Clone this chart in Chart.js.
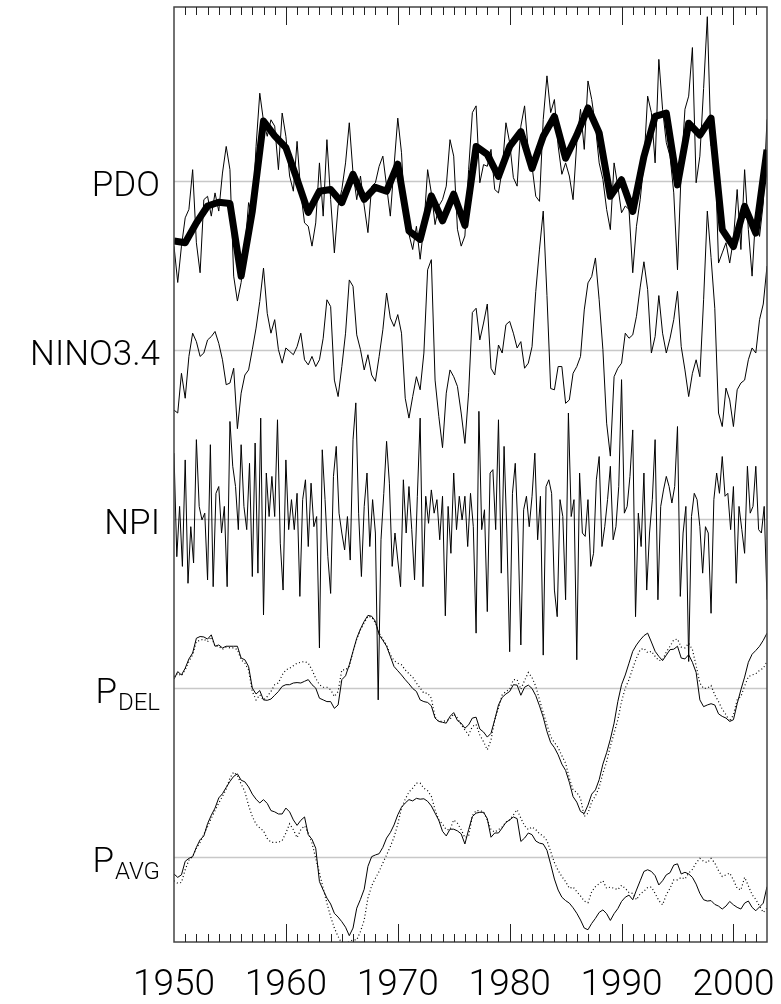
<!DOCTYPE html>
<html>
<head>
<meta charset="utf-8">
<script src="https://cdn.jsdelivr.net/npm/chart.js@4/dist/chart.umd.min.js"></script>
<style>
  html, body { margin: 0; padding: 0; background: #fff; }
  canvas { display: block; }
</style>
</head>
<body>
<canvas id="chart" width="781" height="1004"></canvas>
<script>
// time axis
const startYear = 1950;
const endYear = 2003;
const yearLabels = [1950, 1960, 1970, 1980, 1990, 2000];

// row labels (main text + subscript) and their baselines on the stacked axis
const rowLabels = [
  { main: 'PDO', sub: '' },
  { main: 'NINO3.4', sub: '' },
  { main: 'NPI', sub: '' },
  { main: 'P', sub: 'DEL' },
  { main: 'P', sub: 'AVG' }
];
const rowBase = [16, 12, 8, 4, 0];

// PDO, annual means 1950..2003
const pdoAnnual = [-1.41, -1.45, -0.98, -0.58, -0.49, -0.52, -2.24, -0.7, 1.43, 1.08,
  0.80, 0.05, -0.73, -0.23, -0.19, -0.50, 0.17, -0.42, -0.14, -0.23,
  0.41, -1.17, -1.37, -0.34, -0.93, -0.30, -1.04, 0.83, 0.64, 0.12,
  0.83, 1.18, 0.31, 1.07, 1.54, 0.55, 1.10, 1.74, 1.15, -0.35,
  0.04, -0.71, 0.59, 1.54, 1.62, -0.08, 1.38, 1.10, 1.50, -1.14,
  -1.54, -0.59, -1.22, 0.75];

// PDO, 4-month values (step 1/3 yr)
const pdoMonthly = [-1.53, -2.39, -1.53, -0.86, -0.66, 0.28, -1.45, -2.16, -0.43, -0.35,
  -0.82, -0.27, -0.70, 0.20, 0.83, 0.28, -2.24, -2.83, -2.39, -1.61,
  -0.50, -0.82, 0.83, 2.09, 1.43, 1.07, 1.46, 1.31, 0.28, 1.62,
  1.07, 0.13, -0.23, 0.95, -0.27, -0.98, -1.06, -1.53, -0.98, 0.44,
  -0.82, 0.99, -0.43, -1.69, -0.58, -0.19, 0.44, 1.39, 0.20, -0.43,
  0.13, -0.58, -1.21, -0.11, -0.03, 0.36, 0.60, -0.11, -0.82, 0.36,
  1.50, 0.68, -0.98, -1.25, -1.61, -1.06, -1.84, -1.06, 0.28, -0.27,
  -1.02, -0.58, -0.43, -0.11, 0.99, 0.60, -1.13, -1.53, -1.29, 0.28,
  1.63, 1.79, -0.03, 0.40, 0.36, 0.76, -0.19, -0.27, 0.28, 1.39,
  0.92, 0.09, -0.11, 1.31, 1.79, 0.72, 0.36, -0.35, -0.47, 1.47,
  2.50, 1.63, 1.94, 0.84, 0.17, 0.44, 0.13, -0.43, 0.92, 1.71,
  0.76, 2.38, 1.94, 1.31, 0.44, 0.05, -0.66, -1.14, 0.44, -0.11,
  -0.74, -0.58, -0.66, -2.16, -1.06, -0.43, 0.44, 2.02, 1.63, 0.44,
  2.89, 1.71, 0.92, 0.60, -0.27, -2.09, 0.28, 1.71, 2.02, 3.17,
  -0.03, 0.60, 2.2, 3.9, 0.84, 0.92, -1.93, -1.69, -1.45, -1.93,
  -1.37, -0.19, -1.61, 0.28, -1.14, -2.24, -0.74, -1.30, -0.51, 1.47];

// NINO3.4 (step 1/3 yr)
const nino = [-1.41, -1.48, -0.54, -1.13, -0.14, 0.41, 0.21, -0.14, -0.06, 0.25,
  0.33, 0.45, 0.17, -0.22, -0.81, -0.77, -0.42, -1.85, -1.01, -0.58,
  -0.46, 0.02, 0.53, 1.16, 1.95, 0.88, 0.41, 0.73, 0.02, -0.30,
  0.06, -0.02, -0.10, 0.09, 0.41, -0.22, -0.34, -0.14, -0.38, -0.22,
  0.29, 1.20, 1.04, -0.70, -1.09, -0.38, 0.41, 1.67, 1.52, 0.37,
  0.02, -0.46, -0.10, -0.58, -0.73, -0.14, 0.49, 1.36, 0.77, 0.57,
  0.85, 0.41, -1.13, -1.60, -1.09, -0.62, -0.93, -0.06, 1.91, 2.15,
  -0.70, -1.56, -2.30, -1.01, -0.46, -0.62, -0.85, -1.48, -2.20, -1.0,
  0.9, 1.0, 0.25, 0.65, 1.1, -0.42, -0.58, 0.13, -0.06, 0.61,
  0.69, 0.41, 0.06, 0.21, -0.42, -0.30, 0.09, 1.4, 2.4, 3.3,
  1.3, -0.9, -0.93, -0.38, -0.38, -1.25, -1.17, -0.54, -0.38, -0.14,
  0.96, 1.6, 1.75, 2.19, 1.2, 0.02, -1.72, -2.5, -0.62, -0.42,
  -0.30, 0.41, 0.29, 0.37, 0.81, 1.5, 2.1, 1.44, -0.06, 0.33,
  1.3, 0.41, -0.06, 0.29, 0.73, 1.4, 0.09, -0.46, -1.09, -0.54,
  -0.22, -0.62, 1.2, 3.3, 2.2, 1.0, -1.48, -1.80, -0.89, -1.17,
  -1.80, -0.93, -0.77, -0.70, -0.22, 0.06, -0.06, 0.73, 1.1, 2.0];

// NPI (step 1/4 yr)
const npi = [1.57, -0.88, 0.31, -1.11, 1.41, -1.51, -0.17, -1.03, 1.89, 0.31,
  -0.01, 0.15, -1.43, 1.77, -1.59, 0.62, 0.78, -0.32, 0.31, -1.59,
  2.32, 1.26, 0.78, -0.24, 1.77, 0.31, -0.24, 1.33, -1.35, 1.81,
  -1.27, 2.40, -2.26, 1.10, 0.07, 1.02, 0.07, 2.36, -0.56, -1.67,
  1.41, -0.24, 0.47, -0.24, 0.62, -1.82, 0.47, 0.94, -0.64, 0.86,
  -0.17, 0.07, -3.04, 1.65, 0.47, -0.88, -1.75, 1.02, 1.73, 0.15,
  -0.32, -0.72, 0.07, -0.96, 1.89, 2.76, 0.15, -1.35, 0.31, 1.10,
  -0.64, 0.47, -0.32, -4.27, -0.48, 0.62, 1.85, 0.86, -1.11, -0.32,
  -0.96, -1.59, 0.94, -0.32, 0.78, -0.24, -1.43, 0.55, 2.40, -1.59,
  0.55, -0.09, 0.70, 0.15, 0.47, -0.48, 0.55, -2.28, 0.31, -0.80,
  1.10, -0.24, 0.55, -0.01, 0.55, -0.64, 0.62, -0.17, -2.69, 2.56,
  -0.24, 0.23, -2.18, 1.10, 1.18, -0.24, 2.36, -1.27, 1.73, -0.32,
  -3.13, 0.62, 1.33, -0.32, -2.97, 0.23, 0.55, -0.17, 0.55, 1.57,
  -0.48, 0.55, -3.21, 0.78, 0.94, 0.62, -1.67, -2.30, 0.47, 0.07,
  -1.90, 2.52, 0.07, 0.47, -3.32, 1.10, -0.32, -0.40, 0.47, -1.11,
  -0.80, 0.94, 1.49, -0.64, -0.17, 0.47, 1.26, -0.48, -0.17, 0.78,
  3.31, 0.15, 0.31, 1.02, 2.12, -2.30, 0.15, -0.64, 1.10, -1.67,
  -0.32, 0.47, 1.89, -1.90, 0.31, 0.70, 1.02, 0.78, 0.39, 0.78,
  2.20, -1.82, -0.32, 0.31, -3.36, 0.07, 0.62, 0.47, -0.17, -1.27,
  -0.17, -0.32, -2.22, 0.47, 1.10, 0.62, 1.49, 0.55, 0.62, -0.24,
  0.78, -1.51, 0.31, -0.24, -0.80, 1.26, 0.15, 0.31, 1.26, -0.24,
  -0.32, 0.31, -1.90];

// P_DEL, solid and dotted (step 1/3 yr)
const pdelSolid = [0.22, 0.40, 0.32, 0.48, 0.70, 0.84, 1.19, 1.23, 1.22, 1.17,
  1.27, 1.00, 1.03, 0.96, 1.00, 1.00, 1.00, 1.00, 0.72, 0.68,
  0.52, 0.01, -0.13, -0.05, -0.27, -0.28, -0.25, -0.16, -0.07, 0.05,
  0.09, 0.09, 0.13, 0.14, 0.13, 0.17, 0.21, 0.09, 0.01, -0.23,
  -0.27, -0.31, -0.31, -0.47, -0.39, 0.21, 0.30, 0.56, 0.88, 1.19,
  1.41, 1.59, 1.73, 1.71, 1.59, 1.27, 1.14, 1.00, 0.76, 0.52,
  0.42, 0.32, 0.21, 0.11, 0.00, -0.07, -0.27, -0.31, -0.33, -0.41,
  -0.70, -0.78, -0.80, -0.82, -0.66, -0.57, -0.76, -0.82, -0.94, -0.86,
  -0.70, -0.68, -0.96, -1.03, -1.15, -1.06, -0.74, -0.39, -0.21, -0.13,
  -0.07, 0.09, 0.08, -0.16, 0.03, 0.08, 0.00, -0.17, -0.41, -0.68,
  -1.02, -1.28, -1.40, -1.57, -1.79, -1.94, -2.22, -2.56, -2.69, -2.91,
  -2.96, -2.76, -2.50, -2.40, -2.16, -1.79, -1.52, -1.20, -0.82, -0.31,
  0.09, 0.32, 0.60, 0.88, 1.03, 1.15, 1.25, 1.31, 1.10, 0.88,
  0.76, 0.66, 0.79, 0.92, 0.93, 1.00, 0.72, 0.70, 0.80, 0.62,
  0.38, -0.27, -0.43, -0.39, -0.36, -0.39, -0.60, -0.66, -0.70, -0.78,
  -0.74, -0.36, -0.03, 0.27, 0.62, 0.81, 0.90, 1.00, 1.14, 1.31];
const pdelDotted = [0.28, 0.36, 0.30, 0.44, 0.64, 0.80, 1.11, 1.14, 1.17, 1.11,
  1.22, 1.00, 1.00, 0.93, 0.98, 0.96, 0.96, 0.92, 0.68, 0.60,
  0.44, -0.07, -0.27, -0.15, -0.27, -0.19, -0.07, 0.09, 0.13, 0.32,
  0.44, 0.48, 0.54, 0.60, 0.62, 0.64, 0.60, 0.44, 0.24, 0.09,
  0.03, 0.03, -0.03, -0.19, -0.07, 0.44, 0.44, 0.52, 0.88, 1.17,
  1.39, 1.55, 1.71, 1.69, 1.55, 1.31, 1.17, 1.03, 0.80, 0.66,
  0.60, 0.56, 0.44, 0.35, 0.27, 0.13, 0.01, -0.11, -0.11, -0.23,
  -0.68, -0.78, -0.78, -0.76, -0.73, -0.60, -0.70, -0.86, -0.98, -1.10,
  -0.90, -0.85, -1.10, -1.26, -1.45, -1.22, -0.74, -0.47, -0.15, -0.07,
  -0.02, 0.21, 0.21, -0.02, 0.19, 0.38, 0.26, 0.05, -0.27, -0.57,
  -0.86, -1.14, -1.28, -1.40, -1.59, -1.77, -2.12, -2.40, -2.46, -2.60,
  -3.03, -2.95, -2.68, -2.54, -2.34, -2.01, -1.73, -1.37, -1.06, -0.74,
  -0.31, 0.01, 0.21, 0.48, 0.72, 0.92, 0.95, 0.85, 0.88, 0.76,
  0.66, 0.68, 0.86, 1.00, 1.15, 1.17, 0.98, 0.96, 1.07, 0.92,
  0.54, 0.13, 0.00, 0.01, 0.07, -0.15, -0.31, -0.49, -0.62, -0.78,
  -0.62, -0.27, -0.19, 0.06, 0.28, 0.32, 0.35, 0.43, 0.48, 0.63];

// P_AVG, solid and dotted (step 1/3 yr)
const pavgSolid = [-0.39, -0.47, -0.41, -0.09, -0.02, 0.02, 0.24, 0.42, 0.51, 0.80,
  1.00, 1.17, 1.41, 1.51, 1.66, 1.80, 1.92, 1.98, 1.83, 1.79,
  1.67, 1.50, 1.38, 1.29, 1.37, 1.28, 1.11, 1.08, 1.03, 1.03,
  1.17, 1.08, 0.89, 0.76, 0.88, 0.96, 0.54, 0.43, 0.22, -0.57,
  -0.77, -0.96, -1.10, -1.32, -1.41, -1.52, -1.65, -1.85, -1.67, -1.20,
  -0.99, -0.75, -0.21, 0.02, 0.06, 0.09, 0.24, 0.46, 0.59, 0.77,
  1.01, 1.19, 1.29, 1.37, 1.34, 1.40, 1.38, 1.39, 1.33, 1.22,
  1.05, 0.88, 0.62, 0.51, 0.67, 0.67, 0.63, 0.56, 0.32, 0.66,
  0.97, 1.05, 1.07, 1.07, 0.92, 0.48, 0.58, 0.58, 0.70, 0.83,
  0.89, 0.96, 0.92, 0.38, 0.46, 0.58, 0.54, 0.39, 0.34, 0.32,
  0.17, -0.16, -0.51, -0.77, -0.94, -1.02, -1.08, -1.19, -1.32, -1.48,
  -1.67, -1.71, -1.56, -1.44, -1.30, -1.24, -1.33, -1.49, -1.33, -1.21,
  -1.04, -0.94, -0.89, -1.00, -0.77, -0.55, -0.33, -0.29, -0.33, -0.43,
  -0.65, -0.55, -0.41, -0.36, -0.18, -0.15, -0.39, -0.35, -0.39, -0.47,
  -0.63, -0.85, -1.00, -1.03, -1.02, -1.11, -1.15, -1.22, -1.15, -1.04,
  -1.12, -1.18, -1.22, -1.08, -1.03, -1.18, -1.26, -1.17, -1.08, -0.69];
const pavgDotted = [-0.55, -0.61, -0.59, -0.29, -0.06, 0.02, 0.22, 0.36, 0.55, 0.73,
  0.93, 1.11, 1.29, 1.45, 1.62, 1.88, 2.02, 1.94, 1.74, 1.56,
  1.23, 0.97, 0.79, 0.70, 0.63, 0.45, 0.36, 0.36, 0.36, 0.40,
  0.58, 0.80, 0.66, 0.47, 0.66, 0.75, 0.58, 0.34, -0.02, -0.36,
  -0.73, -1.08, -1.40, -1.67, -1.87, -2.03, -2.03, -1.99, -1.95, -1.95,
  -1.75, -1.48, -0.96, -0.67, -0.49, -0.33, -0.13, 0.06, 0.26, 0.48,
  0.79, 1.17, 1.38, 1.55, 1.64, 1.76, 1.76, 1.64, 1.58, 1.45,
  1.13, 0.89, 0.79, 0.66, 0.66, 0.89, 0.81, 0.66, 0.47, 0.51,
  0.99, 1.11, 1.11, 1.08, 0.89, 0.66, 0.60, 0.66, 0.72, 0.84,
  0.89, 1.01, 1.13, 0.93, 0.75, 0.66, 0.72, 0.66, 0.56, 0.51,
  0.40, 0.14, -0.12, -0.31, -0.45, -0.57, -0.73, -0.70, -0.81, -0.91,
  -1.03, -1.07, -0.81, -0.69, -0.62, -0.55, -0.73, -0.70, -0.73, -0.76,
  -0.66, -0.73, -0.83, -0.85, -1.00, -0.86, -0.80, -0.71, -0.70, -0.85,
  -1.02, -1.12, -0.88, -0.73, -0.53, -0.53, -0.47, -0.51, -0.37, -0.28,
  -0.13, -0.02, -0.09, -0.12, -0.02, -0.13, -0.31, -0.45, -0.41, -0.37,
  -0.53, -0.73, -0.77, -0.47, -0.67, -0.88, -0.99, -1.15, -1.30, -1.20];

// put a series on its row: x = time, y = row baseline + value
function onRow(values, step, base) {
  return values.map((v, i) => ({ x: startYear + i * step, y: base + v }));
}

const thin = { borderColor: '#000', borderWidth: 1, pointRadius: 0, fill: false, tension: 0 };
const dotted = { ...thin, borderWidth: 1.2, borderDash: [1, 2.5] };

const FONT = '"Roboto", "Liberation Sans", sans-serif';

// gray zero lines for each row, behind the curves
const rowLines = {
  id: 'rowLines',
  beforeDatasetsDraw(chart) {
    const { ctx, chartArea, scales } = chart;
    ctx.save();
    ctx.strokeStyle = '#c8c8c8';
    ctx.lineWidth = 1.5;
    rowBase.forEach(b => {
      const y = Math.round(scales.y.getPixelForValue(b)) + 0.5;
      ctx.beginPath();
      ctx.moveTo(chartArea.left, y);
      ctx.lineTo(chartArea.right, y);
      ctx.stroke();
    });
    ctx.restore();
  }
};

// box, inward year ticks on top and bottom, and all the text
const frameAndText = {
  id: 'frameAndText',
  afterDraw(chart) {
    const { ctx, chartArea, scales } = chart;
    const { left, right, top, bottom } = chartArea;
    ctx.save();
    ctx.strokeStyle = '#444';
    ctx.lineWidth = 1.5;
    ctx.strokeRect(left, top, right - left, bottom - top);

    ctx.lineWidth = 1;
    ctx.strokeStyle = '#222';
    for (let yr = startYear + 1; yr < endYear; yr++) {
      const x = Math.round(scales.x.getPixelForValue(yr)) + 0.5;
      const len = yr % 10 === 0 ? 18 : 8;
      ctx.beginPath();
      ctx.moveTo(x, top);
      ctx.lineTo(x, top + len);
      ctx.moveTo(x, bottom);
      ctx.lineTo(x, bottom - len);
      ctx.stroke();
    }

    // year labels
    ctx.fillStyle = '#000';
    ctx.font = '300 37px ' + FONT;
    ctx.textAlign = 'center';
    ctx.textBaseline = 'alphabetic';
    yearLabels.forEach(yr => {
      ctx.fillText(String(yr), scales.x.getPixelForValue(yr), 995);
    });

    // row labels, right aligned left of the box
    const rightEdge = 160;
    rowLabels.forEach((lab, k) => {
      const yBase = scales.y.getPixelForValue(rowBase[k]);
      ctx.textAlign = 'right';
      if (!lab.sub) {
        ctx.font = '300 35px ' + FONT;
        ctx.fillText(lab.main, rightEdge, yBase + 14.5);
      } else {
        ctx.font = '300 24px ' + FONT;
        const subW = ctx.measureText(lab.sub).width;
        ctx.fillText(lab.sub, rightEdge, yBase + 21.5);
        ctx.font = '300 35px ' + FONT;
        ctx.fillText(lab.main, rightEdge - subW - 1, yBase + 14.5);
      }
    });
    ctx.restore();
  }
};

new Chart(document.getElementById('chart').getContext('2d'), {
  type: 'line',
  data: {
    datasets: [
      { ...thin, data: onRow(pdoAnnual, 1, rowBase[0]), borderWidth: 7, borderJoinStyle: 'round', borderCapStyle: 'butt' },
      { ...thin, data: onRow(pdoMonthly, 1 / 3, rowBase[0]) },
      { ...thin, data: onRow(nino, 1 / 3, rowBase[1]) },
      { ...thin, data: onRow(npi, 1 / 4, rowBase[2]) },
      { ...thin, data: onRow(pdelSolid, 1 / 3, rowBase[3]) },
      { ...dotted, data: onRow(pdelDotted, 1 / 3, rowBase[3]) },
      { ...thin, data: onRow(pavgSolid, 1 / 3, rowBase[4]) },
      { ...dotted, data: onRow(pavgDotted, 1 / 3, rowBase[4]) }
    ]
  },
  options: {
    responsive: false,
    devicePixelRatio: 1,
    animation: false,
    layout: { padding: { left: 174, top: 7, right: 14, bottom: 62 } },
    plugins: { legend: { display: false }, tooltip: { enabled: false } },
    scales: {
      x: { type: 'linear', min: startYear, max: endYear, display: false },
      y: { min: -2, max: 20.13, display: false }
    }
  },
  plugins: [rowLines, frameAndText]
});
</script>
</body>
</html>
